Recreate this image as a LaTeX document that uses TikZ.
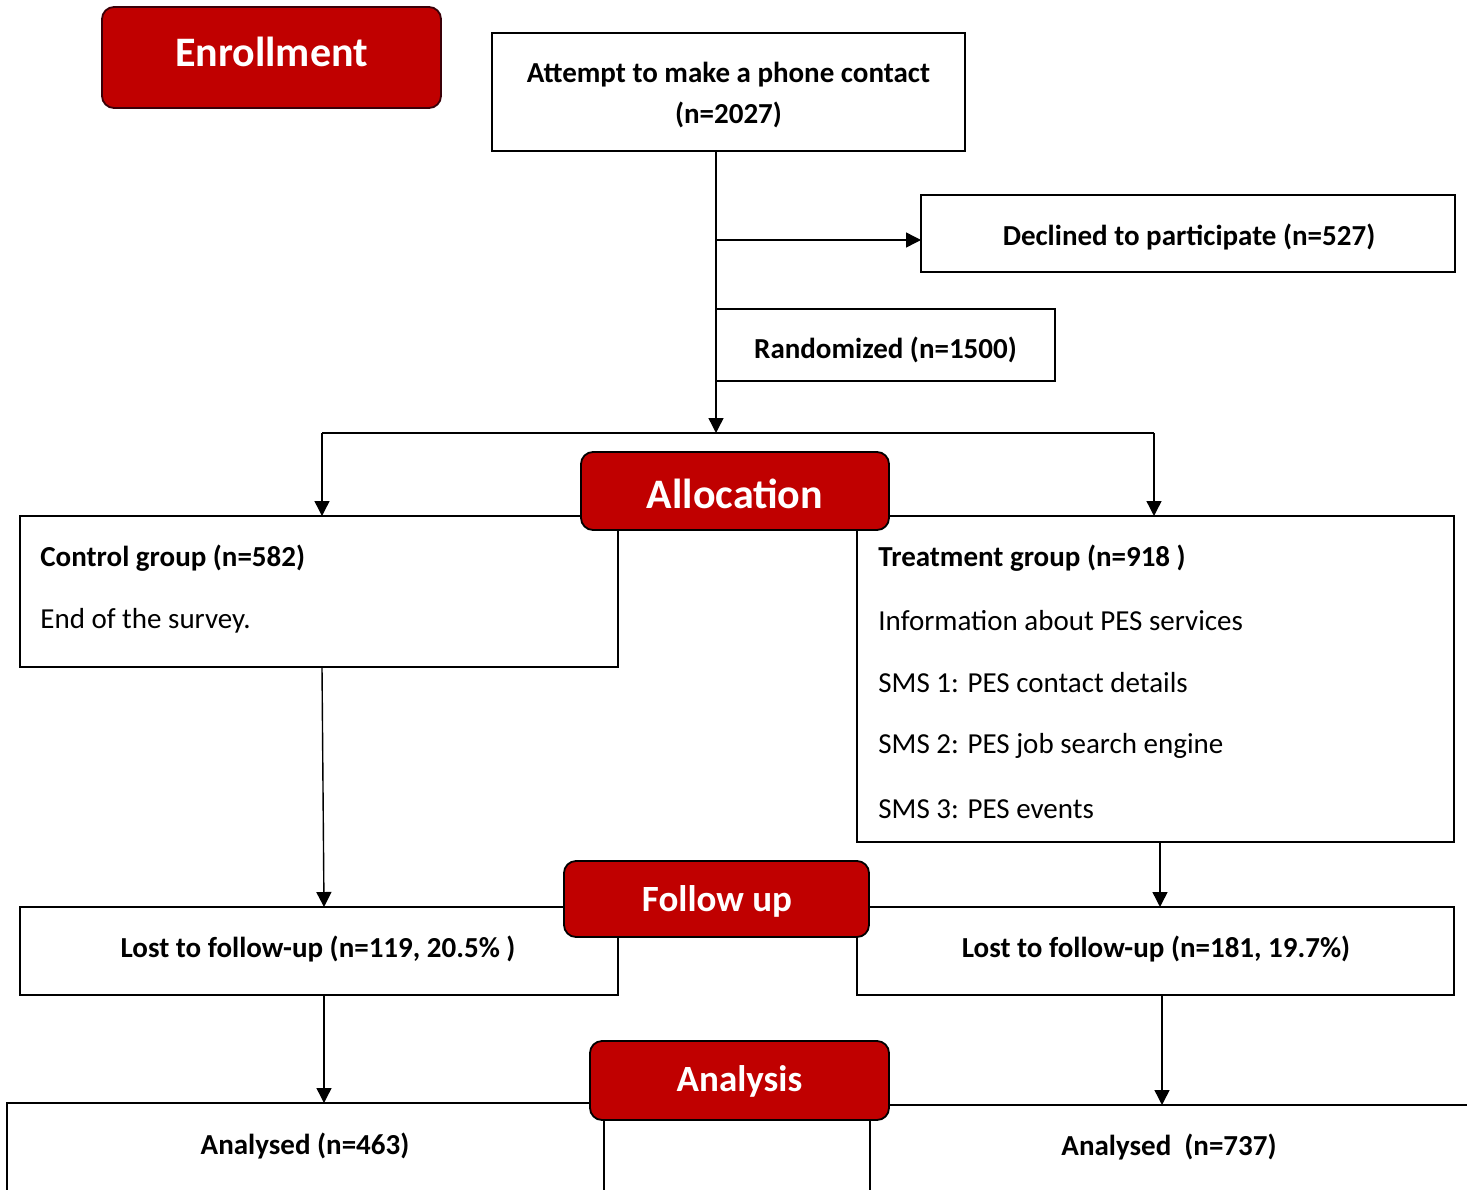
\documentclass[tikz,border=0pt]{standalone}
\usepackage{fontspec}
\setmainfont{Carlito}
\usetikzlibrary{arrows.meta}
\definecolor{redbox}{HTML}{C00000}
\definecolor{darkrim}{HTML}{3A0008}
\tikzset{
  box/.style={draw=black, line width=0.9pt, fill=white, inner sep=0pt, outer sep=0pt},
  stage/.style={draw=black, line width=0.9pt, fill=redbox, rounded corners=6pt, inner sep=0pt},
  stagetxt/.style={text=white, font=\fontsize{21}{24}\selectfont\bfseries, inner sep=0pt},
  stagetxtsm/.style={stagetxt, font=\fontsize{18.5}{22}\selectfont\bfseries},
  btxt/.style={font=\fontsize{14.5}{17}\selectfont\bfseries, inner sep=0pt},
  rtxt/.style={font=\fontsize{14.5}{17}\selectfont, inner sep=0pt},
  conn/.style={line width=0.7pt, -{Triangle[length=7.5pt,width=7.5pt]}},
  plain/.style={line width=0.7pt}
}
\begin{document}
\begin{tikzpicture}[x=0.5pt,y=-0.5pt]
\useasboundingbox (0,0) rectangle (1467,1189);
\begin{scope}
\clip (0,0) rectangle (1467,1189);
% boxes
\node[box, minimum width=236.5pt, minimum height=59pt] (attempt) at (728.5,92) {};
\node[btxt] (attemptt1) at (728.5,75) {Attempt to make a phone contact};
\node[btxt] (attemptt2) at (728.5,115) {(n=2027)};
\node[box, minimum width=267pt, minimum height=38.5pt] (declined) at (1188,233.5) {};
\node[btxt] (declinedt) at (1189,237) {Declined to participate (n=527)};
\node[box, minimum width=169.5pt, minimum height=36pt] (random) at (885.5,345) {};
\node[btxt] (randomt) at (885.5,350) {Randomized (n=1500)};
\node[box, minimum width=299pt, minimum height=75.5pt] (control) at (319,591.5) {};
\node[btxt, anchor=west] (controlt1) at (40,558) {Control group (n=582)};
\node[rtxt, anchor=west] (controlt2) at (40,621) {End of the survey.};
\node[box, minimum width=298.5pt, minimum height=163pt] (treat) at (1155.5,679) {};
\node[btxt, anchor=west] (treatt1) at (878,558) {Treatment group (n=918 )};
\node[rtxt, anchor=west] (treatt2) at (878,621) {Information about PES services};
\node[rtxt, anchor=west] (treatt3) at (878,683) {SMS 1: PES contact details};
\node[rtxt, anchor=west] (treatt4) at (878,746) {SMS 2: PES job search engine};
\node[rtxt, anchor=west] (treatt5) at (878,809) {SMS 3: PES events};
\node[box, minimum width=299pt, minimum height=44pt] (lostl) at (319,951) {};
\node[btxt] (lostlt) at (318,949) {Lost to follow-up (n=119, 20.5\% )};
\node[box, minimum width=298.5pt, minimum height=44pt] (lostr) at (1155.5,951) {};
\node[btxt] (lostrt) at (1156,949) {Lost to follow-up (n=181, 19.7\%)};
\node[box, minimum width=298.5pt, minimum height=100pt] (anl) at (305.5,1203) {};
\node[btxt] (anlt) at (305,1146) {Analysed (n=463)};
\node[box, minimum width=300pt, minimum height=100pt] (anr) at (1170,1205) {};
\node[btxt] (anrt) at (1169,1147) {Analysed\ \ (n=737)};
% connectors
\coordinate (split) at (716,433);
\coordinate (branch) at (716,240);
\coordinate (lsplit) at (322,433);
\coordinate (rsplit) at (1154,433);
\draw[plain] (attempt.south -| split) -- (branch);
\draw[conn] (branch) -- (branch -| declined.west);
\draw[conn] (branch) -- (split);
\draw[plain] (lsplit) -- (rsplit);
\draw[conn] (lsplit) -- (lsplit |- control.north);
\draw[conn] (rsplit) -- (rsplit |- treat.north);
\coordinate (cbot) at (322,667);
\coordinate (tbot) at (1160,842);
\coordinate (lbot) at (324,995);
\coordinate (rbot) at (1162,995);
\draw[conn] (cbot) -- (324,907);
\draw[conn] (tbot) -- (tbot |- lostr.north);
\draw[conn] (lbot) -- (lbot |- anl.north);
\draw[conn] (rbot) -- (rbot |- anr.north);
% stage labels
\node[stage, draw=darkrim, minimum width=169.5pt, minimum height=50.5pt] (enroll) at (271.5,57.5) {};
\node[stagetxt] (enrollt) at (271.5,52) {Enrollment};
\node[stage, minimum width=154pt, minimum height=39pt] (alloc) at (735,491) {};
\node[stagetxt] (allot) at (735,494) {Allocation};
\node[stage, minimum width=152.5pt, minimum height=38pt] (follow) at (716.5,899) {};
\node[stagetxtsm] (followt) at (717,901) {Follow up};
\node[stage, minimum width=149.5pt, minimum height=39.5pt] (analysis) at (739.5,1080.5) {};
\node[stagetxtsm] (analysist) at (739.5,1081) {Analysis};
\end{scope}
\end{tikzpicture}
\end{document}
